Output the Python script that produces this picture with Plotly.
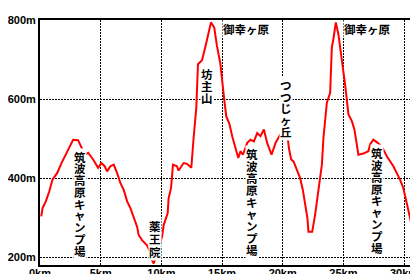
import plotly.graph_objects as go

# distance (km) and elevation (m)
dist_km = [0.10, 0.21, 0.48, 0.76, 1.03, 1.42, 1.77, 2.18, 2.45, 2.73, 3.14, 3.42, 3.69, 3.97,
           4.38, 4.79, 5.06, 5.33, 5.53, 5.80, 6.07, 6.35, 6.63, 6.90, 7.18, 7.45, 7.72, 8.00,
           8.13, 8.41, 8.82, 9.09, 9.23, 9.37, 9.59, 9.86, 10.06, 10.19, 10.52, 10.60, 10.80,
           10.96, 11.29, 11.42, 11.84, 12.12, 12.47, 12.66, 12.88, 13.02, 13.35, 13.62, 13.89,
           14.09, 14.36, 14.58, 14.86, 15.05, 15.18, 15.35, 15.60, 15.84, 16.12, 16.34, 16.53,
           16.72, 17.08, 17.35, 17.63, 17.90, 18.17, 18.45, 18.72, 19.08, 19.41, 19.69, 19.96,
           20.29, 20.51, 20.70, 20.89, 21.17, 21.44, 21.66, 21.85, 22.04, 22.12, 22.43, 22.67,
           22.95, 23.23, 23.36, 23.64, 23.91, 24.05, 24.18, 24.38, 24.59, 24.87, 25.14, 25.42,
           25.70, 25.91, 26.11, 26.24, 26.65, 27.06, 27.20, 27.47, 27.75, 28.16, 28.58, 29.12,
           29.67, 29.94, 30.22, 30.49, 30.63, 30.90, 31.04]
elev_m = [303, 324, 341, 366, 396, 413, 438, 464, 480, 497, 496, 476, 459, 464,
          447, 426, 438, 430, 417, 430, 434, 413, 387, 370, 341, 324, 298, 277,
          256, 243, 230, 213, 192, 184, 205, 235, 252, 281, 311, 349, 375,
          434, 430, 419, 438, 436, 426, 502, 578, 688, 698, 731, 769,
          794, 781, 735, 690, 645, 600, 556, 538, 506, 472, 451, 468,
          459, 489, 497, 493, 514, 506, 523, 489, 459, 489, 506, 519,
          536, 476, 447, 442, 421, 400, 370, 332, 298, 264, 264, 307,
          366, 434, 502, 591, 616, 731, 752, 794, 764, 705, 637, 561,
          544, 523, 480, 459, 462, 468, 485, 497, 491, 480, 455, 430,
          396, 375, 337, 298, 281, 256, 260]

x_ticks = [0, 5, 10, 15, 20, 25, 30]
x_tick_labels = ["0km", "5km", "10km", "15km", "20km", "25km", "30km"]
y_ticks = [200, 400, 600, 800]
y_tick_labels = ["200m", "400m", "600m", "800m"]

# place names
place_names = ["筑波高原キャンプ場", "薬王院", "坊主山", "御幸ヶ原", "筑波高原キャンプ場",
               "つつじヶ丘", "御幸ヶ原", "筑波高原キャンプ場"]
place_km = [3.33, 9.47, 13.76, 17.0, 17.49, 20.29, 27.0, 27.75]
place_m = [454, 278, 664, 776, 460, 636, 776, 463]
place_vertical = [True, True, True, False, True, True, False, True]
place_pitch = [11.75, 13, 12.2, 0, 11.9, 11.7, 0, 11.8]

fig = go.Figure()
fig.add_trace(go.Scatter(x=dist_km, y=elev_m, mode="lines",
                         line=dict(color="#ff0000", width=2), hoverinfo="skip"))

vfont = dict(family="Noto Sans CJK JP", size=11.5, color="black", weight="bold")
hfont = dict(family="Noto Sans CJK JP", size=11.5, color="black", weight="bold")


def label_items():
    for name, km, m, vert, pitch in zip(place_names, place_km, place_m, place_vertical,
                                        place_pitch):
        if vert:
            for i, ch in enumerate(name):
                yield ch, km, m, -i * pitch, vfont
        else:
            yield name, km, m, 0, hfont


annotations = []
# white backgrounds first, then the glyphs on top
for ch, km, m, ys, f in label_items():
    annotations.append(dict(x=km, y=m, xref="x", yref="y", text=ch, showarrow=False,
                            font=dict(f, color="rgba(0,0,0,0)"), bgcolor="white",
                            borderpad=0, xanchor="center", yanchor="middle", yshift=ys))
for ch, km, m, ys, f in label_items():
    annotations.append(dict(x=km, y=m, xref="x", yref="y", text=ch, showarrow=False,
                            font=f, xanchor="center", yanchor="middle", yshift=ys))

tick_font = dict(family="Liberation Sans", size=11, color="black", weight="bold")
fig.update_layout(
    width=418, height=274,
    margin=dict(l=31.5, r=0, t=12, b=17, autoexpand=False),
    plot_bgcolor="white", paper_bgcolor="white",
    showlegend=False,
    annotations=annotations,
    xaxis=dict(range=[0, 31.81], tickmode="array", tickvals=x_ticks, ticktext=x_tick_labels,
               showline=True, linecolor="black", linewidth=2, mirror=True, showgrid=True,
               gridcolor="black", gridwidth=1, griddash="2px,1px", ticks="",
               zeroline=False, tickfont=tick_font, fixedrange=True, automargin=False,
               ticklabelstandoff=-3),
    yaxis=dict(range=[180, 800], tickmode="array", tickvals=y_ticks, ticktext=y_tick_labels,
               showline=True, linecolor="black", linewidth=2, mirror=False, showgrid=True,
               gridcolor="black", gridwidth=1, griddash="2px,1px", ticks="",
               zeroline=False, tickfont=tick_font, fixedrange=True, automargin=False),
)

fig.write_html("out.html")
